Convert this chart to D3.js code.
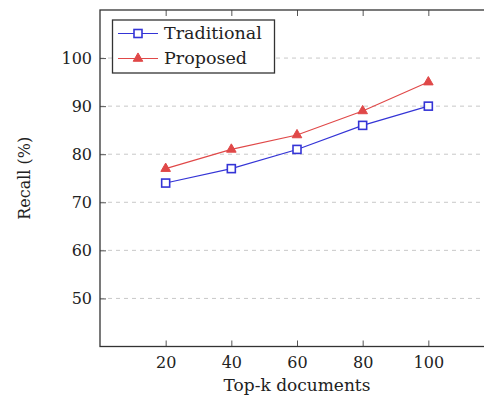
<!DOCTYPE html>
<html>
<head>
<meta charset="utf-8">
<script src="https://cdn.jsdelivr.net/npm/d3@7"></script>
<style>
  html, body { margin: 0; padding: 0; background: #fff; overflow: hidden; }
  svg { display: block; }
  text { font-family: "DejaVu Serif", serif; fill: #222; }
</style>
</head>
<body>
<svg id="chart" width="484" height="399"></svg>
<script>
// Top-k retrieval recall for the two methods
const topK = [20, 40, 60, 80, 100];
const traditional = [74, 77, 81, 86, 90];
const proposed = [77, 81, 84, 89, 95];
const yTicks = [50, 60, 70, 80, 90, 100];
const seriesNames = ["Traditional", "Proposed"];

const plot = { left: 100, top: 10, right: 494, bottom: 346.5 };

const svg = d3.select("#chart");

const x = d3.scaleLinear().domain([0, 120]).range([plot.left, plot.right]);
const y = d3.scaleLinear().domain([40, 110]).range([plot.bottom, plot.top]);

// dashed horizontal grid
svg.append("g")
  .selectAll("line")
  .data(yTicks)
  .join("line")
  .attr("x1", plot.left).attr("x2", plot.right)
  .attr("y1", d => y(d)).attr("y2", d => y(d))
  .attr("stroke", "#c8c8c8")
  .attr("stroke-width", 1)
  .attr("stroke-dasharray", "4,4");

// axes with inward ticks
const tickLen = 6;
const xAxisBottom = d3.axisBottom(x).tickValues(topK).tickSizeInner(-tickLen).tickSizeOuter(0).tickPadding(10);
const xAxisTop = d3.axisTop(x).tickValues(topK).tickSizeInner(-tickLen).tickSizeOuter(0).tickFormat("");
const yAxisLeft = d3.axisLeft(y).tickValues(yTicks).tickSizeInner(-tickLen).tickSizeOuter(0).tickPadding(8);

function styleAxis(g) {
  g.select(".domain").remove();
  g.selectAll(".tick line").attr("stroke", "#555").attr("stroke-width", 1);
  g.selectAll(".tick text").attr("font-family", "DejaVu Serif, serif").attr("font-size", 16).attr("fill", "#222");
}

svg.append("g").attr("transform", `translate(0,${plot.bottom})`).call(xAxisBottom).call(styleAxis);
svg.append("g").attr("transform", `translate(0,${plot.top})`).call(xAxisTop).call(styleAxis);
svg.append("g").attr("transform", `translate(${plot.left},0)`).call(yAxisLeft).call(styleAxis);

// frame
svg.append("rect")
  .attr("x", plot.left).attr("y", plot.top)
  .attr("width", plot.right - plot.left).attr("height", plot.bottom - plot.top)
  .attr("fill", "none").attr("stroke", "#333").attr("stroke-width", 1.3);

const colors = { Traditional: "#3434d6", Proposed: "#e04848" };
const lineGen = d3.line().x(d => x(d[0])).y(d => y(d[1]));

const series = [
  { name: seriesNames[0], values: topK.map((k, i) => [k, traditional[i]]) },
  { name: seriesNames[1], values: topK.map((k, i) => [k, proposed[i]]) }
];

const sq = 8;
const tri = d3.symbol().type(d3.symbolTriangle).size(40);

function drawMarker(g, name, cx, cy) {
  if (name === "Traditional") {
    g.append("rect")
      .attr("x", cx - sq / 2).attr("y", cy - sq / 2)
      .attr("width", sq).attr("height", sq)
      .attr("fill", "#fff").attr("stroke", colors[name]).attr("stroke-width", 1.6);
  } else {
    g.append("path")
      .attr("d", tri())
      .attr("transform", `translate(${cx},${cy})`)
      .attr("fill", colors[name]).attr("stroke", colors[name]).attr("stroke-width", 1);
  }
}

series.forEach(s => {
  const g = svg.append("g");
  g.append("path")
    .datum(s.values)
    .attr("d", lineGen)
    .attr("fill", "none")
    .attr("stroke", colors[s.name])
    .attr("stroke-width", 1.1);
  s.values.forEach(v => drawMarker(g, s.name, x(v[0]), y(v[1])));
});

// legend
const legend = svg.append("g");
legend.append("rect")
  .attr("x", 112.5).attr("y", 20)
  .attr("width", 162).attr("height", 53)
  .attr("fill", "#fff").attr("stroke", "#333").attr("stroke-width", 1.3);

seriesNames.forEach((name, i) => {
  const ly = 33.5 + i * 25;
  legend.append("line")
    .attr("x1", 118).attr("x2", 158)
    .attr("y1", ly).attr("y2", ly)
    .attr("stroke", colors[name]).attr("stroke-width", 1.1);
  drawMarker(legend, name, 138, ly);
  legend.append("text")
    .attr("x", 164).attr("y", ly + 5.5)
    .attr("font-size", 17.5)
    .text(name);
});

// axis titles
svg.append("text")
  .attr("x", 297).attr("y", 391)
  .attr("text-anchor", "middle")
  .attr("font-size", 17)
  .text("Top-k documents");

svg.append("text")
  .attr("transform", `translate(30,${(plot.top + plot.bottom) / 2}) rotate(-90)`)
  .attr("text-anchor", "middle")
  .attr("font-size", 16)
  .text("Recall (%)");
</script>
</body>
</html>
